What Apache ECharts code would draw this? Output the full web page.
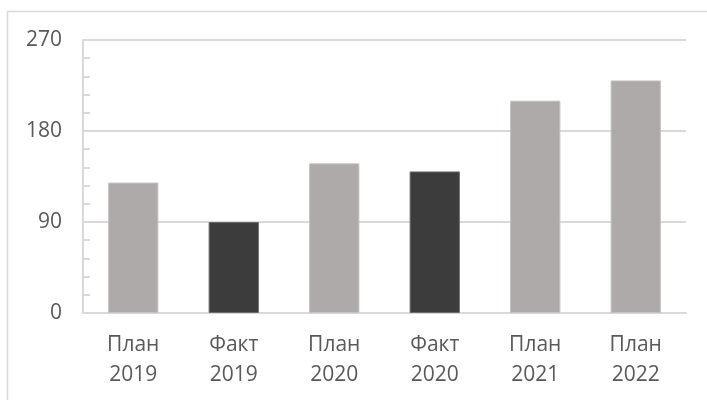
<!DOCTYPE html>
<html><head><meta charset="utf-8">
<script src="https://cdn.jsdelivr.net/npm/echarts@6/dist/echarts.min.js"></script>
<style>html,body{margin:0;padding:0;background:#fff}#c{width:707px;height:400px}</style>
</head><body><div id="c"></div>
<script>
const categories = ['План\n2019','Факт\n2019','План\n2020','Факт\n2020','План\n2021','План\n2022'];
const values = [129, 90, 148, 140, 210, 230];
const kinds = ['plan','fact','plan','fact','plan','plan'];
const yMin = 0, yMax = 270, yStep = 90;

const colors = {plan:'#aeaaa9', fact:'#3c3c3c'};
const borders = {plan:'#c4c1c0', fact:'#6a6a6a'};
const font = '"Open Sans", "Noto Sans", sans-serif';

const chart = echarts.init(document.getElementById('c'));
chart.setOption({
  animation:false,
  backgroundColor:'#fff',
  grid:{left:83, right:21, top:40, bottom:87},
  graphic:[{type:'rect', shape:{x:7.5,y:11.5,width:720,height:420}, style:{fill:'none', stroke:'#d9d9d9', lineWidth:1.5}, silent:true}],
  xAxis:{
    type:'category', data:categories,
    axisLine:{lineStyle:{color:'#d9d9d9', width:2}},
    axisTick:{show:false},
    axisLabel:{color:'#595959', fontSize:21, fontFamily:font, lineHeight:30, margin:17}
  },
  yAxis:{
    type:'value', min:yMin, max:yMax, interval:yStep,
    axisLine:{show:true, lineStyle:{color:'#d9d9d9', width:2}},
    axisTick:{show:true, inside:true, length:7, lineStyle:{color:'#d9d9d9', width:2}},
    minorTick:{show:true, splitNumber:5, length:7, lineStyle:{color:'#d9d9d9', width:2}},
    splitLine:{lineStyle:{color:'#d9d9d9', width:2}},
    axisLabel:{color:'#595959', fontSize:21, fontFamily:font, margin:21}
  },
  series:[{
    type:'bar', barWidth:'50%',
    data: values.map((v,i)=>({value:v, itemStyle:{color:colors[kinds[i]], borderColor:borders[kinds[i]], borderWidth:1}}))
  }]
});
</script></body></html>
